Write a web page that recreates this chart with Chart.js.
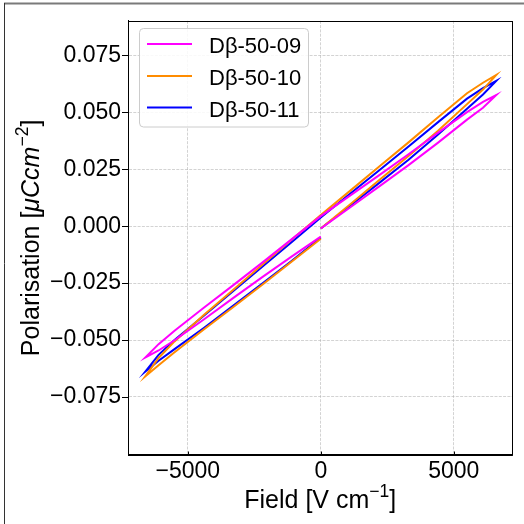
<!DOCTYPE html>
<html>
<head>
<meta charset="utf-8">
<style>
  html, body { margin: 0; padding: 0; background: #ffffff; }
  canvas { display: block; }
</style>
<script src="https://cdn.jsdelivr.net/npm/chart.js@4.4.1/dist/chart.umd.min.js"></script>
</head>
<body>
<canvas id="loops" width="524" height="524"></canvas>
<script>
// Field sweep shared by all three loops: 0 -> +Emax -> -Emax -> 0 (V/cm)
const fieldPath = [
  0, 1100, 2200, 3300, 4400, 5500, 6100, 6600,
  6100, 5500, 4400, 3300, 2200, 1100, 0,
  -1100, -2200, -3300, -4400, -5500, -6100, -6600,
  -6100, -5500, -4400, -3300, -2200, -1100, 0
];

// Polarisation along the sweep (µC/cm²)
const pol09 = [
  -0.0010, 0.0082, 0.0175, 0.0268, 0.0366, 0.0468, 0.0520, 0.0576,
  0.0546, 0.0501, 0.0410, 0.0316, 0.0224, 0.0134, 0.0044,
  -0.0058, -0.0160, -0.0260, -0.0358, -0.0459, -0.0518, -0.0577,
  -0.0546, -0.0501, -0.0410, -0.0316, -0.0224, -0.0134, -0.0046
];
const pol10 = [
  -0.0010, 0.0095, 0.0203, 0.0308, 0.0418, 0.0536, 0.0600, 0.0664,
  0.0630, 0.0584, 0.0477, 0.0368, 0.0262, 0.0155, 0.0049,
  -0.0060, -0.0169, -0.0280, -0.0390, -0.0506, -0.0579, -0.0660,
  -0.0611, -0.0554, -0.0454, -0.0356, -0.0257, -0.0156, -0.0055
];
const pol11 = [
  -0.0010, 0.0090, 0.0190, 0.0292, 0.0402, 0.0516, 0.0578, 0.0638,
  0.0606, 0.0560, 0.0456, 0.0350, 0.0246, 0.0142, 0.0038,
  -0.0071, -0.0178, -0.0286, -0.0393, -0.0500, -0.0565, -0.0639,
  -0.0591, -0.0540, -0.0447, -0.0350, -0.0252, -0.0153, -0.0050
];

const sampleNames = ['Dβ-50-09', 'Dβ-50-10', 'Dβ-50-11'];
const sampleColors = ['#ff00ff', '#ff8c00', '#0000ff'];

const xTickValues = [-5000, 0, 5000];
const yTickValues = [-0.075, -0.05, -0.025, 0, 0.025, 0.05, 0.075];

const FONT = '"Liberation Sans", Arial, Helvetica, sans-serif';
const MINUS = '\u2212';

function toPoints(pol) {
  return fieldPath.map((e, i) => ({ x: e, y: pol[i] }));
}

// Ticks, frame, legend and axis titles drawn directly on the canvas
const decorations = {
  id: 'decorations',
  beforeDraw(chart) {
    const ctx = chart.ctx;
    ctx.save();
    ctx.fillStyle = '#ffffff';
    ctx.fillRect(0, 0, chart.width, chart.height);
    ctx.restore();
  },
  afterDraw(chart) {
    const ctx = chart.ctx;
    const a = chart.chartArea;
    const xs = chart.scales.x, ys = chart.scales.y;
    ctx.save();

    // axes box
    ctx.strokeStyle = '#000000';
    ctx.lineWidth = 1;
    ctx.strokeRect(Math.round(a.left) + 0.5, Math.round(a.top) + 0.5,
                   Math.round(a.right - a.left) - 1, Math.round(a.bottom - a.top) - 1);

    // tick marks: y outward, x inward
    ctx.beginPath();
    yTickValues.forEach(v => {
      const py = Math.round(ys.getPixelForValue(v)) + 0.5;
      ctx.moveTo(a.left - 6, py);
      ctx.lineTo(a.left, py);
    });
    xTickValues.forEach(v => {
      const px = Math.round(xs.getPixelForValue(v)) + 0.5;
      ctx.moveTo(px, a.bottom);
      ctx.lineTo(px, a.bottom - 3.5);
    });
    ctx.stroke();

    // legend
    const lg = { x: 139.5, y: 28.5, w: 169, h: 98.5, r: 4 };
    ctx.beginPath();
    ctx.roundRect(lg.x, lg.y, lg.w, lg.h, lg.r);
    ctx.fillStyle = 'rgba(255,255,255,0.85)';
    ctx.fill();
    ctx.strokeStyle = '#cccccc';
    ctx.lineWidth = 1;
    ctx.stroke();
    const rows = [44, 76, 107.5];
    ctx.font = '22px ' + FONT;
    ctx.textAlign = 'left';
    ctx.textBaseline = 'alphabetic';
    chart.data.datasets.forEach((ds, i) => {
      ctx.strokeStyle = ds.borderColor;
      ctx.lineWidth = 2;
      ctx.beginPath();
      ctx.moveTo(147, rows[i]);
      ctx.lineTo(192, rows[i]);
      ctx.stroke();
      ctx.fillStyle = '#000000';
      ctx.fillText(ds.label, 209, rows[i] + 9.3);
    });

    // axis titles with superscripts
    const big = '25px ' + FONT;
    const bigIt = 'italic 25px ' + FONT;
    const small = '17.5px ' + FONT;
    function drawPieces(pieces, cx, baseY) {
      let total = 0;
      pieces.forEach(p => { ctx.font = p.font; p.w = ctx.measureText(p.text).width; total += p.w; });
      let x = cx - total / 2;
      ctx.textAlign = 'left';
      ctx.textBaseline = 'alphabetic';
      ctx.fillStyle = '#000000';
      pieces.forEach(p => {
        ctx.font = p.font;
        ctx.fillText(p.text, x, baseY - (p.rise || 0));
        x += p.w;
      });
    }
    drawPieces([
      { text: 'Field [V cm', font: big },
      { text: MINUS + '1', font: small, rise: 11 },
      { text: ']', font: big }
    ], (a.left + a.right) / 2, 508);

    ctx.save();
    ctx.translate(39, (a.top + a.bottom) / 2);
    ctx.rotate(-Math.PI / 2);
    drawPieces([
      { text: 'Polarisation [', font: big },
      { text: 'μCcm', font: bigIt },
      { text: MINUS + '2', font: small, rise: 11 },
      { text: ']', font: big }
    ], 0, 0);
    ctx.restore();

    // figure frame
    ctx.strokeStyle = '#7a7a7a';
    ctx.lineWidth = 2;
    ctx.beginPath();
    ctx.moveTo(4, 3.5);
    ctx.lineTo(524, 3.5);
    ctx.stroke();
    ctx.strokeStyle = '#333333';
    ctx.lineWidth = 1;
    ctx.beginPath();
    ctx.moveTo(4.5, 3);
    ctx.lineTo(4.5, 524);
    ctx.stroke();

    ctx.restore();
  }
};

const gridStyle = {
  color: 'rgba(176,176,176,0.7)',
  lineWidth: 0.8,
  drawTicks: false
};

new Chart(document.getElementById('loops'), {
  type: 'scatter',
  data: {
    datasets: [pol09, pol10, pol11].map((pol, i) => ({
      label: sampleNames[i],
      data: toPoints(pol),
      showLine: true,
      borderColor: sampleColors[i],
      backgroundColor: sampleColors[i],
      borderWidth: 2,
      pointRadius: 0,
      tension: 0,
      fill: false
    }))
  },
  options: {
    responsive: false,
    animation: false,
    devicePixelRatio: 1,
    layout: { padding: { left: 0, top: 17, right: 11.5, bottom: 0 } },
    plugins: { legend: { display: false }, tooltip: { enabled: false } },
    scales: {
      x: {
        type: 'linear',
        min: -7250,
        max: 7210,
        afterBuildTicks: axis => { axis.ticks = xTickValues.map(v => ({ value: v })); },
        afterFit: axis => { axis.height = 69; },
        grid: gridStyle,
        border: { display: true, color: '#000000', width: 1, dash: [3, 1.3] },
        ticks: {
          color: '#000000',
          font: { family: FONT, size: 23 },
          padding: 3,
          maxRotation: 0,
          callback: v => (v < 0 ? MINUS : '') + Math.abs(v)
        }
      },
      y: {
        type: 'linear',
        min: -0.1005,
        max: 0.0902,
        afterBuildTicks: axis => { axis.ticks = yTickValues.map(v => ({ value: v })); },
        afterFit: axis => { axis.width = 128; },
        grid: gridStyle,
        border: { display: true, color: '#000000', width: 1, dash: [3, 1.3] },
        ticks: {
          color: '#000000',
          font: { family: FONT, size: 23 },
          padding: 7,
          callback: v => (v < 0 ? MINUS : '') + Math.abs(v).toFixed(3)
        }
      }
    }
  },
  plugins: [decorations]
});
</script>
</body>
</html>
